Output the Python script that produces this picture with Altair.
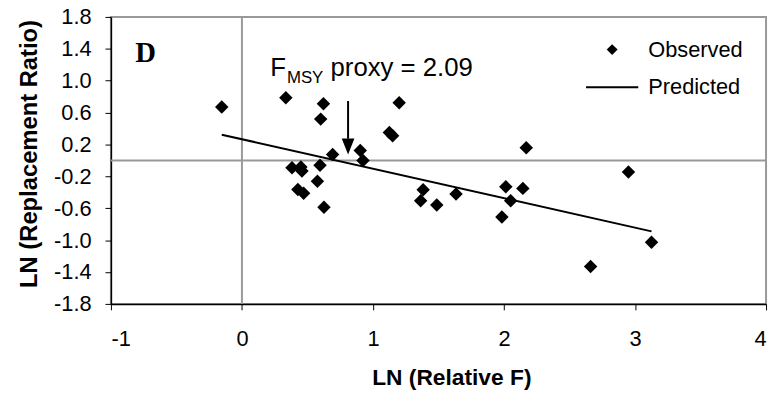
import altair as alt
import pandas as pd

# ---- data ----
obs_x = [-0.154, 0.335, 0.622, 0.601, 1.200, 1.125, 1.150, 0.692, 0.903, 0.924,
         0.382, 0.450, 0.458, 0.596, 0.576, 0.427, 0.471, 0.626, 1.383, 1.364,
         1.487, 1.634, 2.014, 2.144, 2.051, 1.984, 2.170, 2.950, 3.126, 2.661]
obs_y = [0.670, 0.786, 0.711, 0.518, 0.724, 0.351, 0.310, 0.074, 0.124, 0.000,
         -0.091, -0.083, -0.133, -0.062, -0.261, -0.364, -0.413, -0.587, -0.369, -0.505,
         -0.559, -0.422, -0.331, -0.351, -0.505, -0.711, 0.158, -0.145, -1.027, -1.332]
pred_x = [-0.154, 3.126]
pred_y = [0.323, -0.890]
ref_x = [0.0]
ref_y = [0.0]
arrow_x = [0.81, 0.81]
arrow_y = [0.745, 0.273]
head_x = [0.81]
head_y = [0.174]
series = ["Observed", "Predicted"]
x_ticks = [-1, 0, 1, 2, 3, 4]
y_ticks = [-1.8, -1.4, -1.0, -0.6, -0.2, 0.2, 0.6, 1.0, 1.4, 1.8]
ann_text = ["F", "MSY", "proxy = 2.09"]
ann_x = [0.216, 0.343, 0.676]
ann_y = [1.055, 0.972, 1.055]
ann_size = [26, 17, 26]
panel_text = ["D"]
panel_x = [-0.815]
panel_y = [1.229]

FONT = "Liberation Sans"
GRAY = "#999999"

xs = alt.Scale(domain=[-1, 4], nice=False, zero=False)
ys = alt.Scale(domain=[-1.8, 1.8], nice=False, zero=False)

x_axis = alt.Axis(
    values=x_ticks, grid=False,
    labelExpr="(datum.value < 0 ? '-' : '') + format(abs(datum.value), 'd')",
    labelFont=FONT, labelFontSize=22, labelColor="black", labelPadding=19,
    tickColor="black", tickSize=6, tickWidth=1,
    domainColor="black", domainWidth=1.5,
    titleFont=FONT, titleFontSize=23, titleFontWeight="bold", titleColor="black",
    titleX=344, titleY=81, titleBaseline="alphabetic",
)
y_axis = alt.Axis(
    values=y_ticks, grid=False,
    labelExpr="(datum.value < 0 ? '-' : '') + format(abs(datum.value), '.1f')",
    labelFont=FONT, labelFontSize=22, labelColor="black", labelPadding=14,
    tickColor="black", tickSize=6, tickWidth=1,
    domainColor="black", domainWidth=1.5,
    titleFont=FONT, titleFontSize=24, titleFontWeight="bold", titleColor="black",
    titleX=-75, titleY=138, titleAngle=270, titleBaseline="alphabetic",
)

XT = "LN (Relative F)"
YT = "LN (Replacement Ratio)"


def X():
    return alt.X("x:Q", scale=xs, axis=x_axis, title=XT)


def Y():
    return alt.Y("y:Q", scale=ys, axis=y_axis, title=YT)


obs_df = pd.DataFrame({"x": obs_x, "y": obs_y, "series": [series[0]] * len(obs_x)})
pred_df = pd.DataFrame({"x": pred_x, "y": pred_y})
refx_df = pd.DataFrame({"x": ref_x})
refy_df = pd.DataFrame({"y": ref_y})
arrow_df = pd.DataFrame({"x": arrow_x, "y": arrow_y})
head_df = pd.DataFrame({"x": head_x, "y": head_y})
ann_df = pd.DataFrame({"x": ann_x, "y": ann_y, "t": ann_text, "fs": ann_size})
panel_df = pd.DataFrame({"x": panel_x, "y": panel_y, "t": panel_text})

vline = alt.Chart(refx_df).mark_rule(color=GRAY, strokeWidth=2).encode(x=X())
hline = alt.Chart(refy_df).mark_rule(color=GRAY, strokeWidth=2).encode(y=Y())

line = alt.Chart(pred_df).mark_line(color="black", strokeWidth=2).encode(x=X(), y=Y())

LINE_PATH = "M-4.8,-0.18L4.8,-0.18L4.8,0.18L-4.8,0.18Z"
points = alt.Chart(obs_df).mark_point(filled=True, color="black", size=185, opacity=1).encode(
    x=X(), y=Y(),
    shape=alt.Shape(
        "series:N",
        scale=alt.Scale(domain=series, range=["diamond", LINE_PATH]),
        legend=alt.Legend(
            title=None, orient="none", legendX=495.5, legendY=22,
            labelFont=FONT, labelFontSize=22, labelColor="black",
            labelOffset=25.5, rowPadding=16, padding=0,
            symbolSize=121, symbolStrokeWidth=0, symbolFillColor="black",
        ),
    ),
)

arrow = alt.Chart(arrow_df).mark_line(color="black", strokeWidth=2).encode(x=X(), y=Y())
head = alt.Chart(head_df).mark_point(
    shape="M-0.8,-1L0.8,-1L0,1Z", size=256, filled=True, color="black", opacity=1
).encode(x=X(), y=Y())

ann = alt.Chart(ann_df).mark_text(
    font=FONT, align="left", baseline="alphabetic", color="black"
).encode(x=X(), y=Y(), text="t:N", size=alt.Size("fs:Q", scale=None))

panel = alt.Chart(panel_df).mark_text(
    font="Liberation Serif", fontWeight="bold", fontSize=29,
    align="left", baseline="alphabetic", color="black"
).encode(x=X(), y=Y(), text="t:N")

chart = alt.layer(vline, hline, line, points, arrow, head, ann, panel).properties(
    width=662, height=290,
    autosize=alt.AutoSizeParams(type="none"),
    padding={"left": 104, "top": 7, "right": 4, "bottom": 86},
).configure_view(stroke=GRAY, strokeWidth=2)

chart.save("out.html", embed_options={"renderer": "svg", "actions": False})
